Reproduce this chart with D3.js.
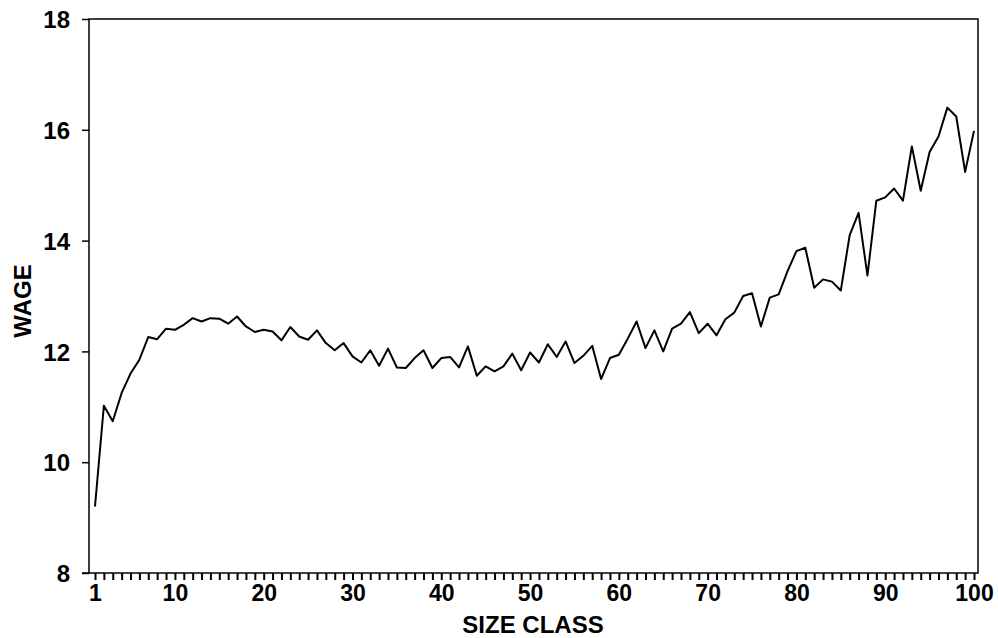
<!DOCTYPE html>
<html>
<head>
<meta charset="utf-8">
<script src="https://cdn.jsdelivr.net/npm/d3@7"></script>
<style>
  body { margin: 0; background: #fff; }
  text { font-family: "Liberation Sans", Arial, sans-serif; font-weight: bold; fill: #000; }
</style>
</head>
<body>
<div id="chart"></div>
<script>
var w = 998;
var h = 638;
var margin = {top: 19, right: 20, bottom: 65, left: 89};
var iw = w - margin.left - margin.right;
var ih = h - margin.top - margin.bottom;

// size classes 1..100
var sizeClass = d3.range(1, 101);

// wage, one per size class
var wage = [
  9.2, 11.02, 10.74, 11.25, 11.6, 11.85, 12.26, 12.22, 12.41, 12.39,
  12.48, 12.6, 12.54, 12.6, 12.59, 12.5, 12.63, 12.45, 12.35, 12.39,
  12.36, 12.2, 12.44, 12.27, 12.21, 12.38, 12.15, 12.02, 12.15, 11.91,
  11.8, 12.02, 11.74, 12.05, 11.71, 11.7, 11.88, 12.02, 11.7, 11.88,
  11.9, 11.71, 12.09, 11.56, 11.73, 11.64, 11.73, 11.96, 11.66, 11.98,
  11.8, 12.13, 11.9, 12.18, 11.79, 11.92, 12.1, 11.5, 11.88, 11.94,
  12.23, 12.54, 12.06, 12.38, 12.0, 12.41, 12.5, 12.71, 12.33, 12.5,
  12.29, 12.58, 12.7, 13.0, 13.05, 12.45, 12.97, 13.03, 13.45, 13.81,
  13.87, 13.15, 13.3, 13.26, 13.1, 14.1, 14.5, 13.37, 14.72, 14.78,
  14.94, 14.72, 15.7, 14.9, 15.6, 15.88, 16.4, 16.24, 15.24, 15.98
];

var xTickLabels = [1, 10, 20, 30, 40, 50, 60, 70, 80, 90, 100];
var yTicks = [8, 10, 12, 14, 16, 18];

var svg = d3.select("#chart")
    .append("svg")
    .attr("width", w)
    .attr("height", h);

var g = svg.append("g")
    .attr("transform", "translate(" + margin.left + "," + margin.top + ")");

var x = d3.scaleLinear().domain([1, 100]).range([6, iw - 4]);
var y = d3.scaleLinear().domain([8, 18]).range([ih, 0]);

// frame
g.append("rect")
    .attr("x", 0)
    .attr("y", 0)
    .attr("width", iw)
    .attr("height", ih)
    .attr("fill", "none")
    .attr("stroke", "#000")
    .attr("stroke-width", 1.5);

// y axis
var yAxis = g.append("g")
    .call(d3.axisLeft(y).tickValues(yTicks).tickSize(7).tickPadding(12).tickFormat(d3.format("d")));
yAxis.select(".domain").remove();
yAxis.selectAll("line").attr("stroke", "#000").attr("stroke-width", 1.5);
yAxis.selectAll("text").style("font-size", "24px").attr("dy", "0.36em");

// x axis: a tick on every size class, labels on some
var xAxis = g.append("g")
    .attr("transform", "translate(0," + ih + ")")
    .call(d3.axisBottom(x).tickValues(sizeClass).tickSize(7).tickPadding(5)
        .tickFormat(function (d) { return xTickLabels.indexOf(d) >= 0 ? d : ""; }));
xAxis.select(".domain").remove();
xAxis.selectAll("line").attr("stroke", "#000").attr("stroke-width", 2);
xAxis.selectAll("text").style("font-size", "23px");

// extend bottom line left to meet the 8 tick
g.append("line")
    .attr("x1", -7).attr("x2", 0)
    .attr("y1", ih).attr("y2", ih)
    .attr("stroke", "#000").attr("stroke-width", 1.5);

// data line
var line = d3.line()
    .x(function (d, i) { return x(sizeClass[i]); })
    .y(function (d) { return y(d); });

g.append("path")
    .datum(wage)
    .attr("fill", "none")
    .attr("stroke", "#000")
    .attr("stroke-width", 2)
    .attr("stroke-linejoin", "round")
    .attr("d", line);

// axis titles
svg.append("text")
    .attr("x", 533)
    .attr("y", 633)
    .attr("text-anchor", "middle")
    .style("font-size", "24px")
    .text("SIZE CLASS");

svg.append("text")
    .attr("transform", "translate(31," + (margin.top + ih / 2 + 5) + ") rotate(-90)")
    .attr("text-anchor", "middle")
    .style("font-size", "24px")
    .text("WAGE");
</script>
</body>
</html>
